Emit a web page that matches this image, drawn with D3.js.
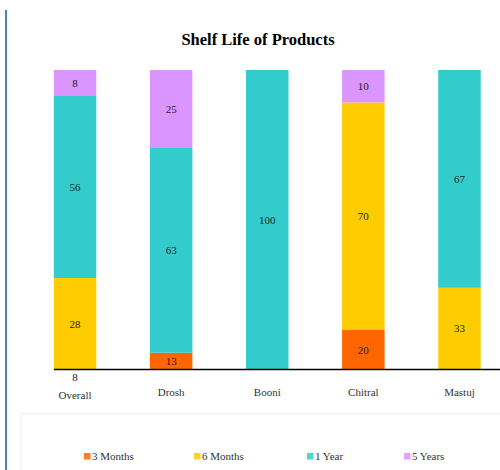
<!DOCTYPE html>
<html>
<head>
<meta charset="utf-8">
<script src="https://cdn.jsdelivr.net/npm/d3@7"></script>
<style>
  html, body { margin: 0; padding: 0; background: #fff; }
  svg { display: block; }
</style>
</head>
<body>
<svg id="chart" width="500" height="470"></svg>
<script>
// Shelf life shares (%) per location
const categories = ["Overall", "Drosh", "Booni", "Chitral", "Mastuj"];
const seriesNames = ["3 Months", "6 Months", "1 Year", "5 Years"];
const months3 = [8, 13, 0, 20, 0];
const months6 = [28, 0, 0, 70, 33];
const year1 = [56, 63, 100, 0, 67];
const years5 = [8, 25, 0, 10, 0];
const colors = ["#FF6600", "#FFCC00", "#33CCCC", "#DA95FF"];

const table = categories.map((c, i) => ({
  category: c,
  "3 Months": months3[i],
  "6 Months": months6[i],
  "1 Year": year1[i],
  "5 Years": years5[i]
}));

const svg = d3.select("#chart");
const serif = "'Liberation Serif', 'DejaVu Serif', serif";

// frame decorations
svg.append("line").attr("x1", 6).attr("x2", 6).attr("y1", 10).attr("y2", 470)
  .attr("stroke", "#4F81BD").attr("stroke-width", 2);
svg.append("line").attr("x1", 20).attr("x2", 500).attr("y1", 413.5).attr("y2", 413.5)
  .attr("stroke", "#f3f3f3").attr("stroke-width", 1.5);
svg.append("line").attr("x1", 20.5).attr("x2", 20.5).attr("y1", 414).attr("y2", 470)
  .attr("stroke", "#f3f3f3").attr("stroke-width", 1.5);

const x = d3.scaleBand().domain(categories).range([27, 507.5])
  .paddingInner(0.558).paddingOuter(0.279);
const y = d3.scaleLinear().domain([8, 100]).range([369, 70]).clamp(true);

const stack = d3.stack().keys(seriesNames);
const layers = stack(table);

svg.append("text").attr("x", 258).attr("y", 45).attr("text-anchor", "middle")
  .attr("font-family", serif).attr("font-weight", "bold").attr("font-size", 16.5)
  .attr("fill", "#000").text("Shelf Life of Products");

const g = svg.append("g");
layers.forEach((layer, li) => {
  g.selectAll(null).data(layer.filter(d => d[1] - d[0] > 0)).join("rect")
    .attr("x", d => x(d.data.category))
    .attr("width", x.bandwidth())
    .attr("y", d => y(d[1]))
    .attr("height", d => y(d[0]) - y(d[1]))
    .attr("fill", colors[li]);
});

// x axis line
svg.append("line").attr("x1", x(categories[0])).attr("x2", 500)
  .attr("y1", 369.5).attr("y2", 369.5).attr("stroke", "#000").attr("stroke-width", 1.3);

// data labels
layers.forEach((layer) => {
  layer.filter(d => d[1] - d[0] > 0).forEach(d => {
    const v = d[1] - d[0];
    const below = d[1] <= y.domain()[0];
    const cy = below ? 380.5 : (y(d[0]) + y(d[1])) / 2 + 4;
    svg.append("text")
      .attr("x", x(d.data.category) + x.bandwidth() / 2)
      .attr("y", cy)
      .attr("text-anchor", "middle")
      .attr("font-family", serif).attr("font-size", 11)
      .attr("fill", "#222").text(v);
  });
});

// category labels
categories.forEach((c, i) => {
  const hasBelow = table[i]["3 Months"] > 0 && table[i]["3 Months"] <= y.domain()[0];
  svg.append("text")
    .attr("x", x(c) + x.bandwidth() / 2)
    .attr("y", hasBelow ? 399 : 396)
    .attr("text-anchor", "middle")
    .attr("font-family", serif).attr("font-size", 11)
    .attr("fill", "#333").text(c);
});

// legend
const legendX = [84, 194, 307, 404];
seriesNames.forEach((s, i) => {
  svg.append("rect").attr("x", legendX[i]).attr("y", 453)
    .attr("width", 6.5).attr("height", 6.5).attr("fill", colors[i]).attr("opacity", 0.85);
  svg.append("text").attr("x", legendX[i] + 8).attr("y", 460)
    .attr("font-family", serif).attr("font-size", 11)
    .attr("fill", "#333").text(s);
});
</script>
</body>
</html>
